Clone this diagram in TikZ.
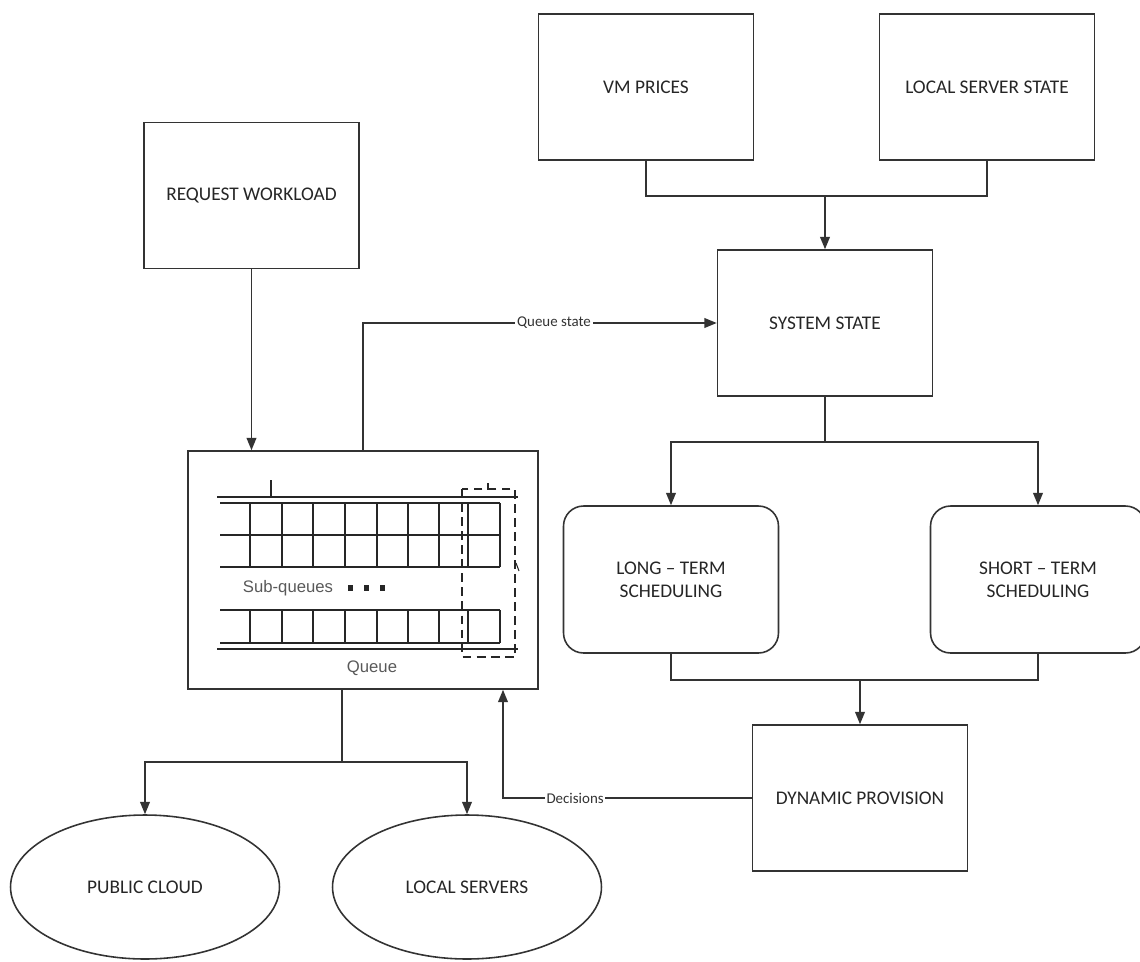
\documentclass[tikz,border=0pt]{standalone}
\usepackage{fontspec}
\setmainfont{Carlito}
\newfontfamily\queuefont{Liberation Sans}
\usetikzlibrary{shapes.geometric,positioning,arrows.meta}
\definecolor{ink}{HTML}{333333}

\begin{document}
\begin{tikzpicture}
[x=0.02cm,y=-0.02cm,
 block/.style={shape=rectangle,draw=ink,line width=0.9pt,minimum width=4.3cm,minimum height=2.92cm,
   font=\fontsize{11}{13}\selectfont,text=black!85,align=center},
 sched/.style={block,rounded corners=0.4cm,minimum height=2.94cm},
 site/.style={shape=ellipse,draw=ink,line width=0.9pt,minimum width=5.38cm,minimum height=2.88cm,
   font=\fontsize{11}{13}\selectfont,text=black!85},
 flow/.style={draw=ink,line width=0.9pt},
 flowlabel/.style={fill=white,inner sep=1pt,font=\fontsize{8.5}{10}\selectfont,text=black!80},
 qline/.style={draw=black!85,line width=1.1pt},
 qtext/.style={font=\queuefont\fontsize{9.5}{11}\selectfont,text=black!65},
 >={Triangle[length=7pt,width=5.5pt]}]
\useasboundingbox (0,0) rectangle (1140,961);

\node[block] (vm) at (646,87) {VM PRICES};
\node[block] (lss) at (987,87) {LOCAL SERVER STATE};
\node[block] (sys) at (825,323) {SYSTEM STATE};
\node[block] (rw) at (251.5,195.5) {REQUEST WORKLOAD};
\node[sched] (lt) at (671,579.5) {LONG -- TERM\\SCHEDULING};
\node[sched] (st) at (1038,579.5) {SHORT -- TERM\\SCHEDULING};
\node[block] (dp) at (860,798) {DYNAMIC PROVISION};
\node[draw=ink,line width=0.9pt,minimum width=7cm,minimum height=4.76cm] (queue) at (363,570) {};
\node[site] (pc) at (145,887) {PUBLIC CLOUD};
\node[site] (ls) at (467,887) {LOCAL SERVERS};

% queue drawing
\draw[qline,line width=1.6pt] (217,497) -- (518,497);
\draw[qline,line width=1.6pt] (217,649) -- (518,649);
\draw[qline] (271,480) -- (271,497);
\foreach \y in {503,535,567} \draw[qline] (220,\y) -- (500,\y);
\foreach \y in {610,643} \draw[qline] (220,\y) -- (500,\y);
\foreach \x in {250,282,313,345,377,408,439,468,500} {
  \draw[qline] (\x,503) -- (\x,567);
  \draw[qline] (\x,610) -- (\x,643);
}
\draw[qline,dash pattern=on 5pt off 3pt] (462,489) rectangle (515,657);
\draw[qline] (488,483) -- (488,490);
\draw[qline,line width=0.6pt] (516,563) -- (519,571);
\node[qtext] (subq) at (288,588) {Sub-queues};
\foreach \x in {350,366,382} \fill[black!85] (\x-2.5,585) rectangle (\x+2.5,591);
\node[qtext] (qlabel) at (372,668) {Queue};

% connectors
\coordinate (topj) at (825,196);
\coordinate (midj) at (825,442);
\coordinate (lowj) at (860,680);
\coordinate (botj) at (342,762);
\coordinate (decx) at (503,0);

\draw[flow] (vm.south) |- (topj) -| (lss.south);
\draw[flow,->] (topj) -- (sys);
\draw[flow,->] (rw) -- (rw |- queue.north);
\draw[flow,->] (queue.north) |- node[pos=0.77,flowlabel] {Queue state} (sys.west);
\draw[flow] (sys.south) -- (midj);
\draw[flow,->] (midj) -| (lt.north);
\draw[flow,->] (midj) -| (st.north);
\draw[flow] (lt.south) |- (lowj) -| (st.south);
\draw[flow,->] (lowj) -- (dp);
\draw[flow,->] (dp.west) -| node[pos=0.355,flowlabel] {Decisions} (queue.south -| decx);
\draw[flow] (queue.south -| botj) -- (botj);
\draw[flow,->] (botj) -| (pc.north);
\draw[flow,->] (botj) -| (ls.north);
\end{tikzpicture}
\end{document}
